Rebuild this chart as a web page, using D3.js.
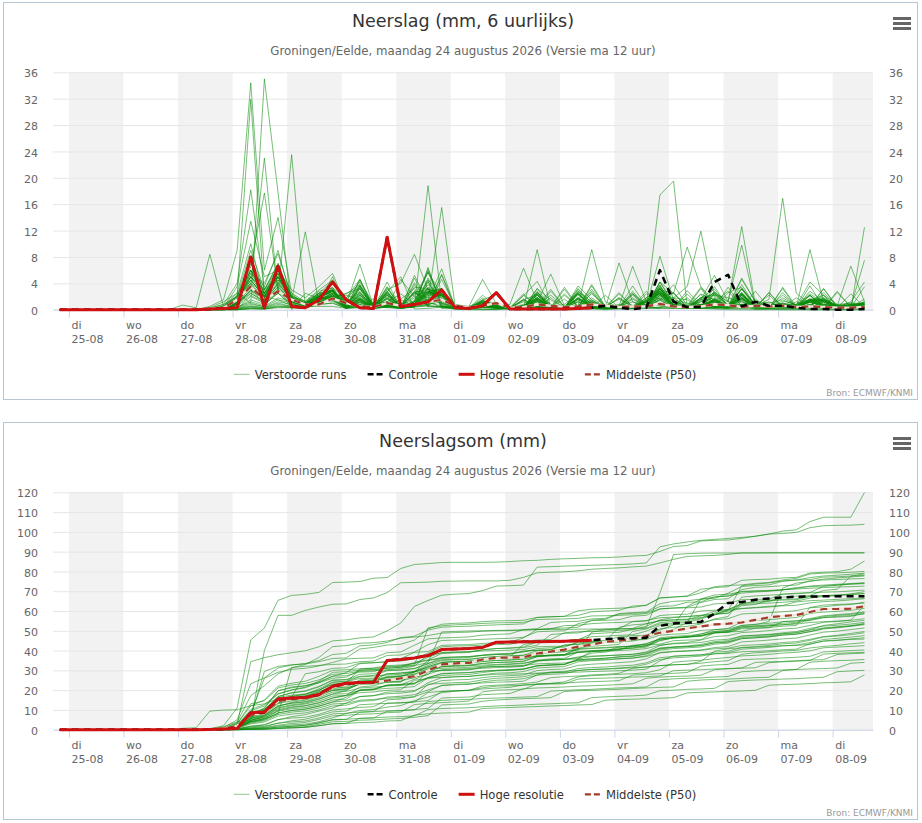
<!DOCTYPE html>
<html>
<head>
<meta charset="utf-8">
<script src="https://cdn.jsdelivr.net/npm/d3@7"></script>
<style>
  body { margin: 0; background: #fff; }
  svg { display: block; }
</style>
</head>
<body>
<div id="chart"></div>
<script>
// ---- data (6-uurlijkse neerslag in mm, eerste waarde 24-08 20:00, stap 6 uur) ----
const weekdagen = ["di","wo","do","vr","za","zo","ma","di","wo","do","vr","za","zo","ma","di"];
const datums = ["25-08","26-08","27-08","28-08","29-08","30-08","31-08","01-09","02-09","03-09","04-09","05-09","06-09","07-09","08-09"];
const yTicksZes = [0,4,8,12,16,20,24,28,32,36];
const yTicksSom = [0,10,20,30,40,50,60,70,80,90,100,110,120];

// Hoge resolutie loopt 10 dagen (40 waarden)
const hogeResolutie = [0,0,0,0,0,0,0,0,0,0,0, 0.1,0.2,0.3,8,0.3,6.6,0.5,0.3,1.5,4.2, 1.5,0.3,0.2,11,0.5,0.8,1.2,3,0.3,0.2,0.6,2.6, 0.1,0.1,0.1,0.1,0.1,0.2,0.3];
const controle = [0,0,0,0,0,0,0,0,0,0,0, 0.1,0.2,0.3,8,0.3,6.6,0.5,0.3,1.5,4.2, 1.5,0.3,0.2,11,0.5,0.8,1.2,3,0.3,0.2,0.6,2.6, 0.1,0.1,0.1,0.1,0.1,0.2,0.3,
  0.6,0.3,0.1,0.3,6,1.2,0.4,0.4,4.2,5.3,0.5,1.2,0.6,0.6,0.3,0.1,0.1,0,0,0.1];
const middelsteZes = [0,0,0,0,0,0,0,0,0,0,0, 0.1,0.3,1.5,3.5,1.5,2.8,1.5,0.8,0.8,1.7, 1,0.5,0.4,1,0.6,0.8,1.2,1.5,0.6,0.3,0.6,1,
  0.3,0.4,0.8,0.6,0.4,0.5,0.8,0.6, 0.4,0.5,0.5, 0.9,0.5,0.4,0.5,0.8, 0.7,0.4,0.6,0.5, 0.6,0.4,0.5,0.4,0.3,0.3,0.4];
const middelsteSom = [0,0,0,0,0,0,0,0,0,0,0, 0.1,0.5,2,7.5,8.5,14.5,15.5,16,17.5,21.5, 23,23.5,24,24.8,26,27,29.9,33,33.5,33.8,35.5,36.3,
  36.5,36.6,38.5,39.5,40.5,42,43,44.5, 45,45.8,47.5, 49,50,51.2,52.2,53.2, 53.6,54.2,55.5,56.8, 57.5,58,59.5,61,61,61.2,62.4];

const verstoordeRuns = [
  [0,0,0,0,0,0,0,0,0,0,0, 0.5,1.5,9,34.4,6,14,2.5,0.5,1,5, 0.2,0.3,1.7,0.3,4.6,2,0.5,0.5,0.1,0,0,0.1, 0.3,0.4,0.2,0.5,0.3,0.2,0.3,0.1,0.3,0.5,0.3,2,2.5,0.5,2.3,0.3,0.2,0.8,1.2,1,1.5,0.6,4.2,2.2,0,0,12.5],
  [0,0,0,0,0,0,0,0,0,0,0, 0.3,1.2,2.5,1,35,17.8,0,2.5,1.7,1.4, 0.2,2.2,0.8,2.7,5,0.1,0.2,0.4,0.1,0.1,0,0, 0.3,1.5,2.3,0.3,0.2,0.5,0.8,0.4,0.3,0.5,0.4,1.6,1.8,1.5,0.3,0.2,0.5,0.8,0,0.1,0,0,0,0,0,0,0],
  [0,0,0,0,0,0,0,0,0,0,0, 0,0.5,2,31.9,2,1.5,1,1,2,3, 0.5,1,0.5,3,4,8.4,3,2.7,0.5,0.3,1.5,2.3, 0.2,0.3,9.1,0.2,0.3,0.2,0.2,0.2,0.2,0.3,0.5,8.1,1.5,1,0.8,0.5,0.5,0.5,0.5,1.2,0.3,0.5,2.4,1,0.2,0.1,0.4],
  [0,0,0,0,0,0,0,0,0,0,0, 0,0.3,3.5,13.4,5,6,3,1.8,3.5,5.5, 0.5,1.2,0.3,0.8,1.5,0.5,0.8,1.2,0.3,0.2,0.5,0.4, 0.1,0.1,0.2,0.1,0,0.1,0.1,0,0.1,0.1,0.5,17.4,19.5,0.5,0.2,0.1,0,0,0,0,0,0,0,0,0,0,0],
  [0,0,0,0,0,0,0,0,0,0,0, 0.2,0.8,4,18.2,3,5,1.5,0.8,1.5,3, 0.6,3.8,0.5,1.2,2.4,0.8,3.1,1.4,0.3,0.2,0.4,0.3, 0.2,0.3,3.2,0.4,0.2,0.5,1.8,0.4,0.3,2.2,0.3,3.8,0.4,0.6,3.4,0.8,0.5,3.2,0.4,0.2,0.6,0.3,2.2,0.4,0.3,1.2,4.2],
  [0,0,0,0,0,0,0,0,0,0.7,0.3, 8.4,0.5,0.2,2,1,2.5,0.5,0.3,1.5,2, 0.2,3.2,0.3,0.5,0.2,4.1,1.2,0.3,0.1,0.2,1.5,0.2, 0.1,0.3,2.6,0.4,0.2,0.3,3.8,0.5,0.2,2.4,0.3,0.2,1.8,0.3,0.2,3.5,0.4,0.3,1.6,0.2,3.2,0.3,0.2,1.4,0.3,0.4,1.6],
  [0,0,0,0,0,0,0,0,0,0,0, 0,0.5,2,4,23,2.5,0.8,0.4,1.2,1.6, 0.3,4.5,0.8,1.2,0.4,2.1,5.6,2.4,0.5,0.2,0.6,0.4, 0.1,0.2,1.5,0.3,0.2,2.8,0.8,0.3,0.2,0.4,1.2,3.6,0.5,0.3,1.8,3.1,0.6,0.3,0.8,0.4,1.3,0.8,2.2,0.4,0.2,0.3,0.4],
  [0,0,0,0,0,0,0,0,0,0,0, 0,0.3,1.5,6.5,17.7,3,1.5,0.5,1.2,1.8, 1.8,0.3,0.2,2.6,0.4,3.4,3.2,0.5,0.2,0.3,0.9,0.4, 0.2,2.2,0.5,3.1,0.4,0.2,1.2,0.3,2.4,0.5,0.3,4.2,1.2,0.3,0.8,0.4,2.6,3.4,0.5,0.3,1.8,0.6,0.3,1.2,0.2,0.4,0.3],
  [0,0,0,0,0,0,0,0,0,0,0, 0,0.2,0.8,3,1.5,2.5,23.5,0.5,0.5,0.5, 0.2,1.2,0.3,2.8,0.3,1.4,3.8,2.1,0.2,0.1,0.3,0.3, 0.2,0.5,2.8,0.3,0.2,3.6,1.5,0.2,0.3,1.8,0.4,3.2,0.6,0.3,2.4,1.5,0.4,4.6,1.2,0.3,0.5,0.3,2.2,0.4,0.2,0.3,0.2],
  [0,0,0,0,0,0,0,0,0,0,0, 0,0.5,1.5,5,2,6,1.5,11.8,1,1.7, 0.3,2.4,0.2,0.4,1.6,3.2,0.4,3.1,0.3,0.1,0.6,0.4, 0.3,2.1,4.3,0.5,0.2,0.4,3.6,0.4,2.6,0.4,0.3,3.2,0.3,1.8,0.2,2.5,0.6,2.2,0.3,0.2,0.3,1.2,0.4,0.3,0.6,0.4,0.5],
  [0,0,0,0,0,0,0,0,0,0,0, 0.2,0.8,2,9,3,7,1.5,1,2.5,3, 0.3,0.5,0.2,0.6,0.5,0.6,18.8,1,0.5,0.3,0.4,0.3, 0.1,0.2,1.4,0.2,0.1,0.3,1.2,0.1,0.2,0.3,0.6,2.4,0.3,0.2,0.4,1.6,0.3,1.8,0.2,0.1,2.6,0.4,0.3,3.2,0.5,0.6,0.2],
  [0,0,0,0,0,0,0,0,0,0,0, 0,0.4,1.8,8,2.5,5.5,2,1.3,3,4.5, 0.3,0.8,0.4,0.5,0.6,0.8,1.5,15.5,0.3,0.2,0.1,0, 0.1,0.3,0.2,0.4,1.6,0.2,0.8,0.4,0.2,0.4,0.3,2.8,0.5,0.2,1.6,0.4,0.3,3.1,0.6,0.4,2.2,0.5,0.3,2.6,0.6,6.6,1.2],
  [0,0,0,0,0,0,0,0,0,0,0, 0,0.6,2.5,10,1.5,6.5,1.5,0.8,1.8,2.8, 0.4,1.1,0.3,0.5,0.6,1.2,5.8,0.9,0.3,0.2,1.1,0.6, 0.2,0.3,1.2,5.4,0.6,0.2,1.5,0.4,0.3,3.6,0.5,1.4,0.3,0.2,0.8,0.4,0.6,4.8,1.2,0.3,0.3,0.2,1.6,0.4,0.3,0.5,0.3],
  [0,0,0,0,0,0,0,0,0,0,0, 0.1,0.3,1.2,5.5,4,8.5,2,0.6,1.5,3.3, 1.8,4.6,0.4,0.6,0.3,1.2,2.8,3.2,0.4,0.1,0.4,0.2, 0.2,1.5,0.6,0.3,3.4,0.5,0.2,0.1,0.4,0.3,1.8,3.2,1.2,0.6,0.3,0.8,0.5,3.8,0.6,2.2,0.4,0.3,1.2,0.4,0.3,0.5,1.2],
  [0,0,0,0,0,0,0,0,0,0,0, 0,0.2,1,6,3.5,9,1.5,1,2,2.8, 0.3,1.8,0.2,2.6,0.4,1.2,3.1,2.4,0.3,0.2,0.3,0.2, 0.2,0.3,1.4,0.2,0.1,1.8,0.4,0.2,0.3,0.4,0.3,2.2,0.5,0.3,1.6,0.4,0.3,1.8,0.4,1.6,16.9,2.5,0.8,1.2,0.6,0.5,0.5],
  [0,0,0,0,0,0,0,0,0,0,0, 0,0.5,2,7,2.5,6,2,1.2,2.5,2.3, 0.6,3.4,0.3,0.8,0.4,2.6,1.2,3.2,0.3,0.2,1.4,0.6, 0.3,0.6,2.4,0.4,0.2,0.5,3.1,0.4,0.3,1.6,0.5,2.8,0.6,0.3,1.4,2.6,1.2,12.6,0.8,0.6,1,0.5,1.2,0.8,0.4,0.5,0.5],
  [0,0,0,0,0,0,0,0,0,0,0, 0,0.3,1.5,5,3,7,1.8,0.8,2.2,3.4, 0.4,2.6,0.3,1.8,0.2,0.6,2.4,3.1,0.3,0.2,0.8,0.3, 0.2,1.6,0.4,0.3,2.2,0.4,0.6,0.3,0.4,2.4,0.6,3,2.5,9.5,3.5,1.2,0.4,1.5,0.6,0.4,0.6,0.8,1.2,0.5,0.4,0.4,0.4],
  [0,0,0,0,0,0,0,0,0,0,0, 0.1,0.4,1.2,6,2.5,6.5,2,1,2.3,3, 0.2,1.8,0.4,2.4,0.3,0.8,2.6,1.9,0.2,0.1,0.8,0.5, 0.3,0.4,2.2,0.3,0.2,0.6,2.8,0.3,0.4,0.3,1.6,2.5,1.8,3.5,11.9,2,0.4,1.2,0.3,0.2,0.6,0.3,0.4,0.3,0.3,0.2,0.3],
  [0,0,0,0,0,0,0,0,0,0,0, 0,0.3,1.8,4.5,2,6,1.5,1,2.5,4.4, 0.5,2.2,0.4,0.6,0.3,1.2,5.8,1,0.3,0.2,1.2,0.7, 0.2,0.6,1.8,0.4,0.3,2.6,0.5,0.3,1.8,0.6,0.3,3.2,0.8,0.4,1.2,2.6,1.2,9.8,0.6,0.4,0.4,0.3,0.5,0.3,0.2,0.4,0.5],
  [0,0,0,0,0,0,0,0,0,0,0, 0,0.2,1,5.5,2.5,5,2.5,1.2,2.8,3.3, 0.3,1.6,0.2,2.2,0.4,0.8,2.4,2.1,0.3,0.2,0.9,0.6, 0.3,0.8,0.4,1.8,0.3,0.6,9.1,1.2,0.4,0.3,2.4,1.6,0.4,0.3,0.8,1.2,2.8,0.6,0.5,0.6,0.4,1.8,0.6,0.3,0.4,0.3,0.4],
  [0,0,0,0,0,0,0,0,0,0,0, 0,0.5,2.2,6,1.8,5,1.5,0.8,2.2,3, 0.8,6.9,0.5,1.2,0.3,0.8,1.6,1.4,0.3,0.2,0.5,0.5, 0.2,1.4,0.5,0.3,2.4,0.4,1.2,0.3,7.1,1.2,0.5,1.5,0.4,0.3,1.8,2.4,0.8,2.6,0.4,0.3,0.4,0.6,1.5,0.8,0.4,0.6,0.5],
  [0,0,0,0,0,0,0,0,0,0,0, 0,0.3,1.5,5,3,6.5,1.2,0.6,2,2.9, 0.3,1.2,0.5,3.2,0.4,0.6,2.1,2.2,0.3,0.2,0.6,0.4, 0.2,0.4,1.6,0.5,0.3,3.2,1,0.4,0.5,6.6,1.2,2.5,0.5,0.3,1.8,2.2,1.8,1.2,0.4,0.4,0.6,0.3,1.2,0.6,0.4,0.5,0.6],
  [0,0,0,0,0,0,0,0,0,0,0, 0.1,0.4,1.2,4,2.5,5.5,1.8,1,2.5,3, 1.2,1.4,0.3,0.6,0.4,0.6,1.4,6.2,0.3,0.2,0.8,0.6, 0.8,6.3,1.2,0.4,0.3,0.6,1.4,0.3,0.4,0.3,1.8,2.8,0.5,0.3,0.6,1.6,0.5,2.4,0.3,0.4,0.4,0.6,1.4,0.5,0.8,0.4,1.2],
  [0,0,0,0,0,0,0,0,0,0,0, 0,0.3,1.5,6,2,5,1.5,0.8,2,2.9, 0.2,1.4,0.3,2.8,0.3,0.6,2.2,2.4,0.3,0.2,0.8,0.5, 0.2,0.5,2.2,0.4,0.2,1.6,0.5,0.3,1.8,0.4,0.3,2.6,1.4,0.4,0.6,2.2,0.5,1.8,0.4,0.3,0.5,0.3,0.8,0.4,0.3,0.5,7.5],
  [0,0,0,0,0,0,0,0,0,0,0, 0,0.4,1.5,4.5,2,5.5,1.5,1,1.8,2.8, 0.6,3.6,0.4,0.8,0.5,2.6,3.1,2.4,0.3,0.2,0.8,0.7, 0.2,0.4,1.2,0.3,0.2,1.6,0.4,0.3,0.4,0.3,1.2,2.4,0.6,0.3,0.4,1.6,0.4,1.8,0.3,0.4,0.6,0.4,9.1,1.2,0.3,0.3,0.3],
  [0,0,0,0,0,0,0,0,0,0,0, 0,0.2,1.2,5,2.2,4.8,1.8,0.8,2,3, 0.2,1.6,0.3,0.8,0.2,5.2,1.2,0.5,0.3,0.2,0.6,0.6, 0.3,0.4,1.8,0.6,0.3,3.1,0.6,0.3,0.5,1.2,0.4,4.2,0.8,0.4,0.6,2.4,0.6,3.2,0.8,0.4,0.6,0.5,2.1,0.6,0.4,0.6,0.9],
  [0,0,0,0,0,0,0,0,0,0,0, 0,0.3,1,4.5,1.8,5.5,1.5,0.7,1.8,2.9, 0.4,2.8,0.3,1.6,0.4,0.8,3.4,2.2,0.3,0.2,1.1,0.5, 0.2,0.3,2.4,0.6,0.3,1.8,0.4,0.3,0.6,0.3,1.4,3.1,0.6,0.4,1.8,1.2,0.4,2.6,0.6,0.5,0.8,0.4,1.2,1.4,0.6,0.5,0.9],
  [0,0,0,0,0,0,0,0,0,0,0, 0.1,0.3,0.8,3.5,2.5,4.5,2.2,1,2.2,2.9, 0.8,3.2,0.4,2.6,0.3,0.6,2.8,2.4,0.3,0.2,0.8,0.6, 0.3,0.6,1.4,0.4,0.3,2.6,0.4,0.3,0.5,0.4,1.2,2.4,0.8,0.4,0.6,1.4,0.3,2.2,0.4,0.5,0.6,0.8,1.6,1.8,0.6,0.5,0.9],
  [0,0,0,0,0,0,0,0,0,0,0, 0,0.2,1.2,4,1.5,5,1.5,0.8,2,2.8, 0.3,1.8,0.4,0.6,0.3,0.6,6.2,0.8,0.3,0.2,0.5,0.4, 0.2,0.4,2.6,0.8,0.3,0.6,2.4,0.5,1.6,0.4,0.5,3.4,1.4,0.6,0.4,1.6,0.6,2.4,0.4,0.5,0.8,0.5,1.6,0.8,0.6,0.4,0.8],
  [0,0,0,0,0,0,0,0,0,0,0, 0,0.3,0.8,3.5,2,4.5,1.5,0.8,2,2.6, 0.2,1.6,0.5,2.4,0.2,0.5,2.8,2.2,0.3,0.2,0.6,0.5, 0.3,0.4,1.6,0.4,0.3,2.8,1.2,0.4,0.4,0.3,1.2,3.2,1.2,0.4,1.2,1.8,0.4,1.6,0.4,0.6,0.8,0.4,1.4,1.6,0.4,0.6,0.8],
  [0,0,0,0,0,0,0,0,0,0,0, 0,0.4,1.5,3.8,1.5,5,1.2,0.6,1.5,2.5, 1.8,3.6,0.6,2.2,0.6,2.4,2.6,2.2,0.4,0.3,0.8,0.5, 0.2,0.3,0.8,0.3,0.2,1.2,0.4,0.3,0.3,0.4,0.6,1.8,0.6,0.3,0.4,1.2,0.4,1.6,0.3,0.4,0.6,0.5,1.4,2.2,0.8,1,0.8],
  [0,0,0,0,0,0,0,0,0,0,0, 0,0.2,1,3.5,1.8,4.2,1.5,0.8,1.5,2.5, 0.3,1.4,0.4,0.8,0.3,4.8,0.8,1.6,0.3,0.2,1,0.8, 0.3,0.6,1.8,0.4,0.3,2.2,0.5,0.3,0.8,0.4,1.2,2.8,0.6,0.4,0.8,1.4,0.5,2.4,0.4,0.4,0.8,0.6,1.6,1.2,0.4,0.6,0.9],
  [0,0,0,0,0,0,0,0,0,0,0, 0.1,0.3,0.8,3,1.5,4,1.5,0.8,1.5,2.5, 1.2,2.6,0.4,2.2,0.4,0.8,2.8,1.8,0.4,0.2,0.8,0.4, 0.2,0.4,1.6,0.4,0.3,2.4,0.5,0.4,0.5,0.3,1.2,2.6,0.8,0.4,0.4,1.6,0.4,2.2,0.4,0.4,1,0.5,1.4,1.2,0.5,0.6,1.1],
  [0,0,0,0,0,0,0,0,0,0,0, 0,0.2,1.2,3.5,1.2,4,1.5,0.6,1.5,2.3, 1.4,4.2,0.6,2,0.4,1.8,3.2,2.2,0.3,0.2,0.4,0.3, 0.3,0.4,1.2,0.3,0.2,1.4,0.4,0.2,0.3,0.4,0.8,2.2,0.6,0.3,0.6,1.2,0.5,1.8,0.4,0.4,1,0.4,1.2,1.4,0.6,0.8,0.8],
  [0,0,0,0,0,0,0,0,0,0,0, 0,0.3,0.8,3,1.5,3.8,1.2,0.6,1.5,2.3, 0.4,4.6,0.3,0.6,0.3,0.6,4.4,0.2,0.4,0.2,0.8,0.8, 0.2,0.6,1.8,0.4,0.3,2.4,0.6,0.3,0.6,0.4,1.2,2.8,0.8,0.4,0.4,1.4,0.6,2.2,0.4,0.6,0.8,0.4,1.4,1.6,0.6,0.6,1],
  [0,0,0,0,0,0,0,0,0,0,0, 0,0.2,0.8,2.8,1.2,3.5,1.2,0.6,1.5,2.2, 0.6,2.2,0.4,1.8,0.3,0.5,2.8,2.2,0.4,0.2,0.9,0.7, 0.3,0.4,2.2,0.5,0.3,1.8,0.6,0.4,0.4,0.5,1.4,3.2,0.6,0.3,0.4,1.2,0.5,2.4,0.4,0.5,0.6,0.4,1.6,1.4,0.5,0.8,0.8],
  [0,0,0,0,0,0,0,0,0,0,0, 0,0.3,1,2.5,1.2,3.5,1.2,0.8,1.5,2, 2.4,3.8,0.5,1.6,0.4,2.8,2.6,2.2,0.4,0.2,0.6,0.5, 0.2,0.3,0.8,0.2,0.2,1.2,0.4,0.3,0.3,0.3,0.8,1.8,0.6,0.3,0.4,0.8,0.3,1.4,0.3,0.4,0.8,0.4,1.2,1.4,0.6,1,0.9],
  [0,0,0,0,0,0,0,0,0,0,0, 0,0.2,0.6,2.5,1.2,3.2,1.2,0.6,1.5,2, 0.3,1.6,0.4,0.6,0.3,0.4,6.4,0.4,0.4,0.2,1.2,0.8, 0.3,0.5,1.6,0.4,0.3,1.8,0.5,0.3,0.5,0.4,1.2,2.6,0.6,0.4,0.4,1.4,0.4,2,0.4,0.6,0.8,0.4,1.4,1.6,0.6,0.6,1],
  [0,0,0,0,0,0,0,0,0,0,0, 0,0.2,0.5,2.2,1,3,1,0.6,1.5,2, 0.4,2,0.3,1.8,0.4,0.8,2.4,2.2,0.4,0.2,1.3,0.8, 0.2,0.6,1.8,0.4,0.3,1.6,0.6,0.3,0.4,0.5,1.4,2.4,0.8,0.4,0.5,1.2,0.5,1.8,0.4,0.5,0.8,0.4,1.2,1.6,0.6,0.6,0.8],
  [0,0,0,0,0,0,0,0,0,0,0, 0,0,0.3,1.5,0.8,2.5,1.5,1,1.8,1.6, 2.5,3.2,0.5,1,0.3,0.8,4.5,2.5,0.4,0.2,0.6,0.5, 0.1,0.2,0.3,0.2,0.1,0.2,0.3,0.2,0.2,0.3,0.5,4.2,2.5,0.3,0.2,0.5,0.3,0.8,0.2,0.3,0.5,0.3,2.8,1.2,0.4,0.8,0.6],
  [0,0,0,0,0,0,0,0,0,0,0, 0,0.1,0.4,1.2,0.6,2.8,0.8,0.4,1.5,2.2, 0.5,0.8,0.3,3.5,0.4,1.2,2.5,3.2,0.6,0.2,0.4,0.4, 0.2,0.3,3.2,1.5,0.3,0.5,0.4,0.2,0.3,0.4,0.3,0.8,0.4,0.2,1.5,5.2,1.2,0.5,0.3,0.4,0.3,0.2,0.5,1.8,0.4,0.3,0.2],
  [0,0,0,0,0,0,0,0,0,0,0, 0,0,0.2,0.8,0.5,1.8,1.2,0.8,1.8,1.9, 0.4,3.2,0.4,0.3,0.2,0.5,4.8,0.6,0.3,0.2,2.2,0.4, 0.3,0.5,0.8,2.2,0.5,0.3,0.6,0.3,0.5,2.5,0.8,0.6,0.4,0.3,0.5,0.8,0.5,3.2,0.8,0.4,0.5,0.3,1.2,0.8,0.5,0.8,0.6],
  [0,0,0,0,0,0,0,0,0,0,0, 0,0.1,0.3,1,0.4,1.5,0.6,0.5,1.5,2.1, 0.3,0.6,0.3,4.2,0.3,0.4,0.6,4.6,0.3,0.2,0.8,0.4, 0.4,1.2,0.5,0.3,0.8,2.5,0.6,0.3,0.4,0.3,0.5,1.5,3.8,0.6,0.4,0.8,0.6,0.8,0.3,0.5,0.6,0.4,0.8,1.5,0.4,0.3,0.4],
  [0,0,0,0,0,0,0,0,0,0,0, 0,0,0.2,0.6,0.3,1.2,0.8,0.6,1.5,1.8, 0.3,0.5,0.2,0.6,0.3,3.8,0.6,0.4,0.3,0.5,4.6,0.9, 0.2,0.3,2.6,0.3,0.2,0.4,0.3,0.2,0.3,2.8,0.4,0.3,0.2,0.4,3.2,0.6,0.3,2.4,0.3,0.2,0.4,0.3,0.5,2.2,0.3,0.4,0.3],
  [0,0,0,0,0,0,0,0,0,0,0, 0,0,0.1,0.5,0.3,1,0.5,0.4,1.2,2, 2.2,1.5,0.5,1.2,0.8,2.5,1.8,2.2,0.8,0.5,1.2,0.8, 0.2,0.3,0.4,0.2,0.1,2.4,0.3,0.2,0.2,0.3,0.2,0.4,2.6,0.3,0.2,0.4,0.2,0.3,2.8,0.3,0.2,0.4,0.3,0.2,2.6,0.4,0.3],
  [0,0,0,0,0,0,0,0,0,0,0, 0,0,0,0.3,0.2,0.8,0.5,0.4,1.2,1.6, 0.2,3.6,0.3,0.4,0.2,0.5,0.6,5.2,0.3,0.2,1.2,0.3, 0.3,2.4,0.4,0.2,0.3,0.4,0.2,0.3,0.3,0.4,2.8,0.6,0.3,0.2,0.4,2.8,0.5,0.3,0.2,2.6,0.4,0.3,0.4,3.2,0.4,0.3,0.2],
  [0,0,0,0,0,0,0,0,0,0,0, 0,0,0.1,0.4,0.2,0.6,0.4,0.5,1.3,1.5, 0.3,0.4,0.2,3.4,0.3,0.4,4.2,0.6,0.3,0.2,0.5,0.2, 0.2,0.3,0.2,2.8,0.4,0.3,0.2,0.4,0.3,0.2,0.3,3.6,0.5,0.3,0.2,0.4,0.3,2.4,0.4,0.3,0.2,0.3,3.6,0.5,0.3,0.2,0.4],
  [0,0,0,0,0,0,0,0,0,0,0, 0,0,0,0.2,0.1,0.5,0.4,0.3,1.2,1.3, 0.2,0.6,0.2,0.4,0.3,0.6,0.8,5.4,0.3,0.2,1.4,0.6, 0.4,0.3,0.2,0.3,3.1,0.4,0.2,0.3,0.2,0.4,0.3,0.3,0.2,2.9,0.6,0.3,0.2,0.3,0.4,0.2,3.4,0.5,0.3,0.2,0.3,2.4,0.4],
  [0,0,0,0,0,0,0,0,0,0,0, 0,0,0,0.2,0.1,0.3,0.3,0.3,0.8,1, 0.2,2.6,0.2,0.4,0.2,0.4,3.2,0.5,0.2,0.2,0.5,0.4, 0.2,0.3,0.4,0.2,0.3,0.2,2.6,0.4,0.3,0.2,0.4,2.2,0.3,0.4,0.2,0.3,3.4,0.5,0.3,0.2,0.3,0.2,0.4,0.3,2.8,0.4,0.3],
  [0,0,0,0,0,0,0,0,0,0,0, 0,0,0,0.1,0.1,0.4,0.3,0.3,0.8,1, 0.2,0.4,0.2,0.6,0.2,2.8,0.6,0.4,0.2,0.3,1.8,0.3, 0.2,0.3,0.2,0.3,0.2,0.3,0.2,2.2,0.3,0.2,0.3,0.2,0.3,2.4,0.3,0.2,0.3,0.2,0.3,2.6,0.3,0.2,0.3,0.4,0.2,0.3,3.5]
];

// ---- layout ----
const FONT = "'DejaVu Sans', Verdana, sans-serif";
const width = 922, height = 823;
const svg = d3.select("#chart").append("svg")
  .attr("width", width).attr("height", height)
  .attr("font-family", FONT);

const x = d3.scaleUtc()
  .domain([new Date(Date.UTC(2026, 7, 24, 17)), new Date(Date.UTC(2026, 8, 8, 17, 45))])
  .range([53, 873]);
const start = Date.UTC(2026, 7, 24, 20);
const tijd = i => new Date(start + i * 6 * 3600e3);
const dagTicks = d3.utcDay.range(new Date(Date.UTC(2026, 7, 25)), new Date(Date.UTC(2026, 8, 9)));

const cumulatief = arr => { let s = 0; return arr.map(v => (s += v)); };

const kleurRuns = "#0a8a0a";
const kleurHoog = "#d01010";
const kleurMidden = "#a33a2a";

function tekenPaneel(offsetY, opt) {
  const g = svg.append("g").attr("transform", `translate(0,${offsetY})`);
  g.append("rect").attr("x", 3.5).attr("y", 2.5).attr("width", 914).attr("height", 397)
    .attr("fill", "#fff").attr("stroke", "#b7c6d5");

  const [x0, x1] = x.range();
  const y = d3.scaleLinear().domain([0, opt.max]).range([309.7, 72.3]);

  // alternating grey day bands
  g.append("g").selectAll("rect")
    .data(dagTicks.filter((d, i) => i % 2 === 0))
    .join("rect")
    .attr("x", d => x(d))
    .attr("width", d => Math.min(x(d3.utcDay.offset(d, 1)), x1) - x(d))
    .attr("y", y(opt.max)).attr("height", y(0) - y(opt.max))
    .attr("fill", "#f2f2f2");

  // grid
  g.append("g").attr("transform", `translate(${x0},0)`)
    .call(d3.axisLeft(y).tickValues(opt.ticks).tickSize(-(x1 - x0)).tickFormat(""))
    .call(a => a.select(".domain").remove())
    .call(a => a.selectAll("line").attr("stroke", "#e6e6e6"));

  // y labels both sides
  const yLinks = g.append("g").attr("transform", `translate(${x0},0)`)
    .call(d3.axisLeft(y).tickValues(opt.ticks).tickSize(0).tickPadding(15));
  const yRechts = g.append("g").attr("transform", `translate(${x1},0)`)
    .call(d3.axisRight(y).tickValues(opt.ticks).tickSize(0).tickPadding(16));
  [yLinks, yRechts].forEach(a => {
    a.attr("font-family", FONT).attr("font-size", 11);
    a.select(".domain").remove();
    a.selectAll("text").attr("fill", "#666").attr("dy", "0.42em");
  });

  // x axis
  const xAs = g.append("g").attr("transform", `translate(0,${y(0)})`)
    .call(d3.axisBottom(x).tickValues(dagTicks).tickSize(8).tickSizeOuter(0).tickFormat(""));
  xAs.select(".domain").attr("stroke", "#ccd6eb");
  xAs.selectAll(".tick line").attr("stroke", "#ccd6eb");
  xAs.selectAll(".tick text").remove();
  xAs.selectAll(".tick").append("text")
    .attr("font-family", FONT).attr("font-size", 11).attr("fill", "#666")
    .attr("text-anchor", "start")
    .each(function(d, i) {
      const t = d3.select(this);
      t.append("tspan").attr("x", 2).attr("y", 19.8).text(weekdagen[i]);
      t.append("tspan").attr("x", 2).attr("y", 33.3).text(datums[i]);
    });

  const lijn = d3.line()
    .x((d, i) => x(tijd(i)))
    .y(d => y(d))
    .curve(d3.curveLinear);

  // ensemble
  g.append("g").selectAll("path")
    .data(opt.runs)
    .join("path")
    .attr("d", lijn)
    .attr("fill", "none")
    .attr("stroke", kleurRuns)
    .attr("stroke-opacity", 0.55)
    .attr("stroke-width", 1)
    .attr("stroke-linejoin", "round");

  // P50
  g.append("path").attr("d", lijn(opt.midden))
    .attr("fill", "none").attr("stroke", "#f3e6dc").attr("stroke-width", 2.5)
    .attr("stroke-linejoin", "round");
  g.append("path").attr("d", lijn(opt.midden))
    .attr("fill", "none").attr("stroke", kleurMidden).attr("stroke-width", 2.2)
    .attr("stroke-dasharray", "7,5").attr("stroke-linejoin", "round");

  // controle
  g.append("path").attr("d", lijn(opt.controle))
    .attr("fill", "none").attr("stroke", "#000").attr("stroke-width", 2.5)
    .attr("stroke-dasharray", "7,5").attr("stroke-linejoin", "round");

  // hoge resolutie
  g.append("path").attr("d", lijn(opt.hoog))
    .attr("fill", "none").attr("stroke", kleurHoog).attr("stroke-width", 3)
    .attr("stroke-linejoin", "round");

  // titles
  g.append("text").attr("x", 463).attr("y", 26.5).attr("text-anchor", "middle")
    .attr("font-size", 17.5).attr("fill", "#333").text(opt.titel);
  g.append("text").attr("x", 463).attr("y", 54.5).attr("text-anchor", "middle")
    .attr("font-size", 11.8).attr("fill", "#666")
    .text("Groningen/Eelde, maandag 24 augustus 2026 (Versie ma 12 uur)");

  // menu icon
  g.append("g").selectAll("rect").data([17, 22, 27]).join("rect")
    .attr("x", 893).attr("y", d => d).attr("width", 18).attr("height", 3)
    .attr("fill", "#666");

  // legend
  const items = [
    { naam: "Verstoorde runs", kleur: kleurRuns, breedte: 1, dash: null, opacity: 0.45 },
    { naam: "Controle", kleur: "#000", breedte: 2.5, dash: "6,3", opacity: 1 },
    { naam: "Hoge resolutie", kleur: kleurHoog, breedte: 3, dash: null, opacity: 1 },
    { naam: "Middelste (P50)", kleur: kleurMidden, breedte: 2.2, dash: "6,3", opacity: 1 }
  ];
  const legenda = g.append("g");
  let lx = 0;
  items.forEach(it => {
    const ig = legenda.append("g").attr("transform", `translate(${lx},0)`);
    ig.append("line").attr("x1", 0).attr("x2", 16).attr("y1", 0).attr("y2", 0)
      .attr("stroke", it.kleur).attr("stroke-width", it.breedte)
      .attr("stroke-opacity", it.opacity)
      .attr("stroke-dasharray", it.dash);
    const t = ig.append("text").attr("x", 21).attr("y", 4.3)
      .attr("font-size", 11.6).attr("fill", "#333").text(it.naam);
    lx += 21 + t.node().getComputedTextLength() + 21;
  });
  const legBreedte = lx - 21;
  legenda.attr("transform", `translate(${(x0 + x1) / 2 + 2 - legBreedte / 2},374.3)`);

  // credits
  g.append("text").attr("x", 913).attr("y", 395.5).attr("text-anchor", "end")
    .attr("font-size", 9).attr("fill", "#999").text("Bron: ECMWF/KNMI");
}

tekenPaneel(0, {
  titel: "Neerslag (mm, 6 uurlijks)",
  max: 36, ticks: yTicksZes,
  runs: verstoordeRuns,
  midden: middelsteZes,
  controle: controle,
  hoog: hogeResolutie
});

tekenPaneel(420, {
  titel: "Neerslagsom (mm)",
  max: 120, ticks: yTicksSom,
  runs: verstoordeRuns.map(cumulatief),
  midden: middelsteSom,
  controle: cumulatief(controle),
  hoog: cumulatief(hogeResolutie)
});
</script>
</body>
</html>
